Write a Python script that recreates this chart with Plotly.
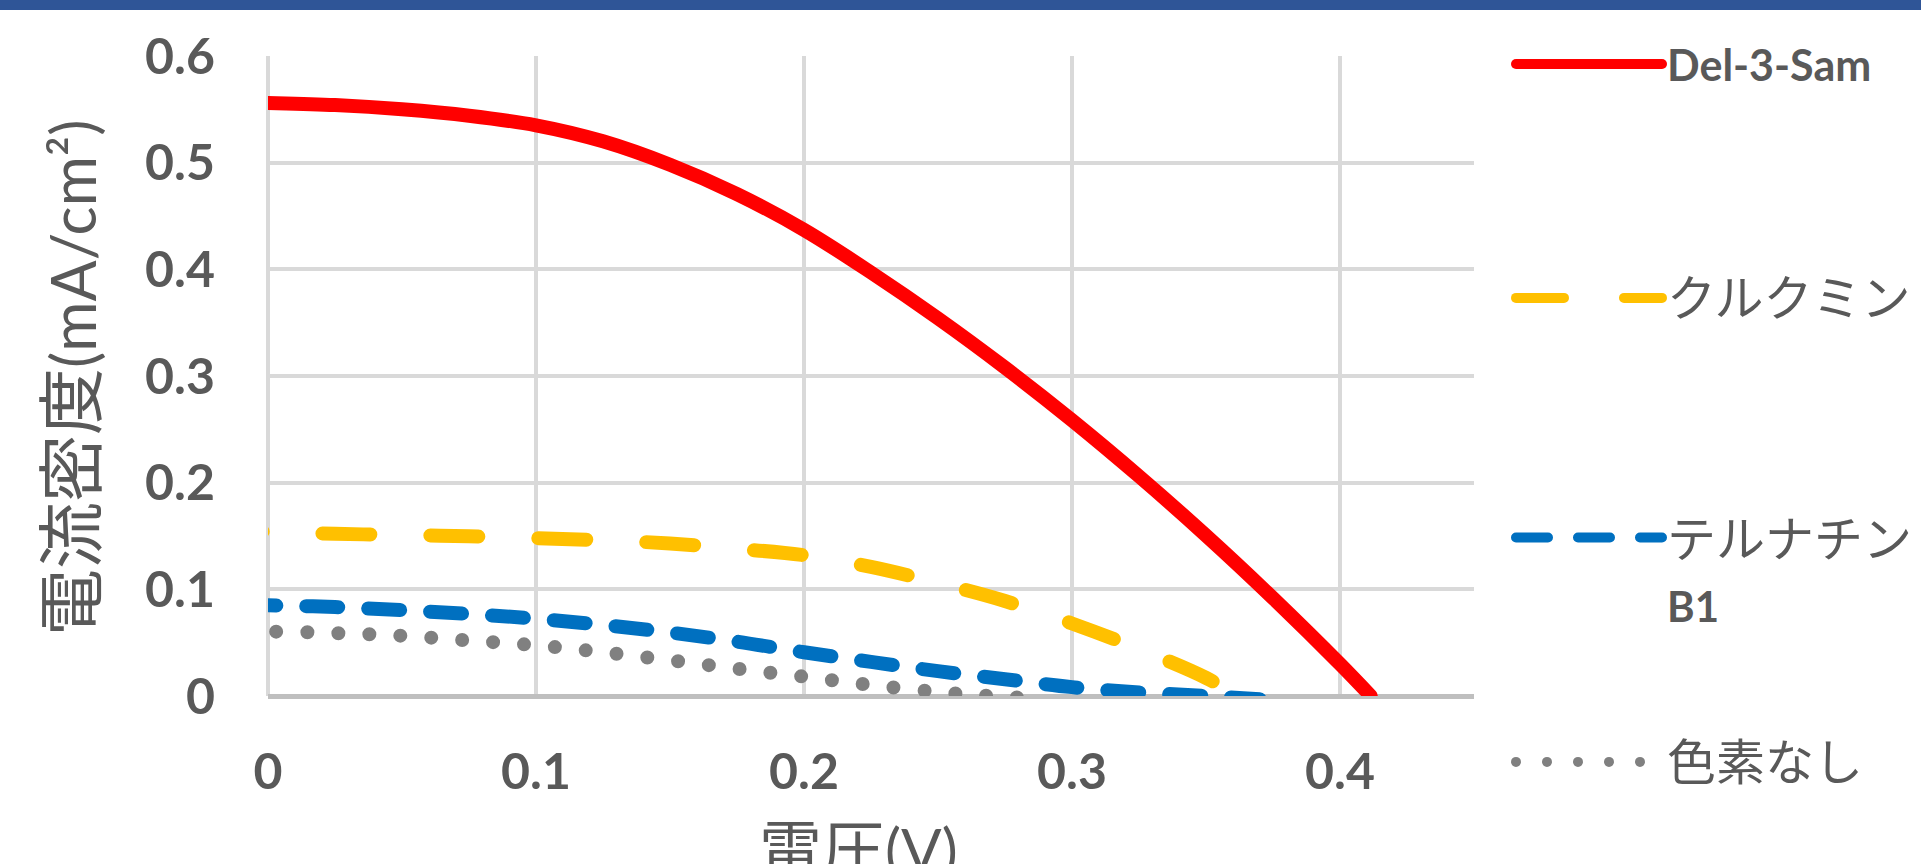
import plotly.graph_objects as go

# J-V curves: current density (mA/cm2) vs voltage (V)
del3sam_v = [-0.02, 0.0, 0.025, 0.05, 0.075, 0.1, 0.125, 0.15, 0.175, 0.2, 0.225,
             0.25, 0.275, 0.3, 0.325, 0.35, 0.375, 0.4, 0.4115]
del3sam_j = [0.557, 0.556, 0.554, 0.550, 0.544, 0.535, 0.520, 0.498, 0.4705, 0.437, 0.397,
             0.354, 0.3078, 0.2585, 0.206, 0.1505, 0.0918, 0.030, 0.0]

curcumin_v = [-0.02, 0.0, 0.025, 0.05, 0.075, 0.1, 0.125, 0.15, 0.175, 0.2, 0.225,
              0.25, 0.275, 0.3, 0.325, 0.35, 0.362]
curcumin_j = [0.155, 0.154, 0.152, 0.151, 0.1497, 0.148, 0.146, 0.143, 0.138, 0.132, 0.121,
              0.106, 0.089, 0.068, 0.044, 0.017, 0.0]

ternatin_v = [-0.032, 0.0, 0.025, 0.05, 0.075, 0.1, 0.125, 0.15, 0.175, 0.2, 0.225,
              0.25, 0.275, 0.3, 0.325, 0.35, 0.37]
ternatin_j = [0.086, 0.085, 0.0834, 0.0805, 0.0769, 0.0725, 0.0666, 0.0595, 0.051, 0.041, 0.032,
              0.0233, 0.0157, 0.0083, 0.0034, 0.0, -0.003]

nodye_v = [-0.02, 0.0, 0.025, 0.05, 0.075, 0.1, 0.125, 0.15, 0.175, 0.2, 0.225,
           0.25, 0.27, 0.29]
nodye_j = [0.0615, 0.0605, 0.059, 0.0565, 0.052, 0.0475, 0.041, 0.0335, 0.0256, 0.0181, 0.0103,
           0.0037, 0.0, -0.003]

KANA = "font-size:49px"
series_names = ["<b>Del-3-Sam</b>",
                f"<span style='{KANA}'>クルクミン</span>",
                f"<span style='{KANA}'>テルナチン</span><br><b style='font-size:42px'>B1</b>",
                f"<span style='{KANA}'>色素なし</span>"]
x_ticks = [0, 0.1, 0.2, 0.3, 0.4]
x_tick_text = ["0", "0.1", "0.2", "0.3", "0.4"]
y_ticks = [0, 0.1, 0.2, 0.3, 0.4, 0.5, 0.6]
y_tick_text = ["0", "0.1", "0.2", "0.3", "0.4", "0.5", "0.6"]

TEXT = "#595959"
FONT = "Lato, 'Noto Sans CJK JP', sans-serif"
CJK_Y = "font-family:Noto Sans CJK JP;font-size:67px"
CJK_X = "font-family:Noto Sans CJK JP;font-size:63px"
LW = 14

fig = go.Figure()
fig.add_trace(go.Scatter(x=del3sam_v, y=del3sam_j, mode="lines", name=series_names[0],
                         line=dict(color="#FF0000", width=LW, shape="spline"),
                         legend="legend"))
fig.add_trace(go.Scatter(x=curcumin_v, y=curcumin_j, mode="lines", name=series_names[1],
                         line=dict(color="#FFC000", width=LW, shape="spline", dash="48px,60px"),
                         legend="legend2"))
fig.add_trace(go.Scatter(x=ternatin_v, y=ternatin_j, mode="lines", name=series_names[2],
                         line=dict(color="#0070C0", width=LW, shape="spline", dash="32px,30px"),
                         legend="legend3"))
fig.add_trace(go.Scatter(x=nodye_v, y=nodye_j, mode="lines", name=series_names[3],
                         line=dict(color="#808080", width=LW, shape="spline", dash="0px,31px"),
                         legend="legend4"))

PLOT_L, PLOT_R, PLOT_T, PLOT_B = 268, 1474, 56, 696
W, H = 1921, 864
pw, ph = PLOT_R - PLOT_L, PLOT_B - PLOT_T


def px(xp):
    return (xp - PLOT_L) / pw


def py(yp):
    return (PLOT_B - yp) / ph


legend_common = dict(bgcolor="rgba(0,0,0,0)", xanchor="left", yanchor="middle",
                     itemwidth=146, font=dict(family=FONT, size=46, color=TEXT),
                     x=px(1511))

fig.update_layout(
    width=W, height=H,
    margin=dict(l=PLOT_L, r=W - PLOT_R, t=PLOT_T, b=H - PLOT_B, autoexpand=False),
    paper_bgcolor="white", plot_bgcolor="white",
    showlegend=True,
    legend=dict(legend_common, y=py(64), font=dict(family=FONT, size=43, color=TEXT)),
    legend2=dict(legend_common, y=py(298)),
    legend3=dict(legend_common, y=py(570), valign="top",
                 font=dict(family=FONT, size=50, color=TEXT)),
    legend4=dict(legend_common, y=py(762)),
    xaxis=dict(range=[0, 0.45], tickvals=x_ticks, ticktext=x_tick_text,
               showgrid=True, gridcolor="#D9D9D9", gridwidth=4,
               zeroline=True, zerolinecolor="#D9D9D9", zerolinewidth=4,
               showline=False, ticks="", ticklabelstandoff=42,
               tickfont=dict(family=FONT, size=50, color=TEXT, weight="bold")),
    yaxis=dict(range=[0, 0.6], tickvals=y_ticks, ticktext=y_tick_text,
               showgrid=True, gridcolor="#D9D9D9", gridwidth=4,
               zeroline=True, zerolinecolor="#BFBFBF", zerolinewidth=5,
               showline=False, ticks="", ticklabelstandoff=52,
               tickfont=dict(family=FONT, size=50, color=TEXT, weight="bold")),
    annotations=[
        dict(text=f"<span style='{CJK_Y}'>電流密度</span>(mA/cm²)",
             xref="paper", yref="paper", x=px(66), y=py(378),
             xanchor="center", yanchor="middle", textangle=-90, showarrow=False,
             font=dict(family=FONT, size=61, color=TEXT)),
        dict(text=f"<span style='{CJK_X}'>電圧</span>(V)",
             xref="paper", yref="paper", x=px(858), y=py(797),
             xanchor="center", yanchor="top", showarrow=False,
             font=dict(family=FONT, size=60, color=TEXT)),
    ],
    shapes=[
        dict(type="rect", xref="paper", yref="paper", ysizemode="pixel", yanchor=1,
             x0=-0.5, x1=1.6, y0=PLOT_T - 10, y1=PLOT_T + 20,
             fillcolor="#2F5597", line=dict(width=0), layer="above"),
    ],
)

round_caps = """
var s = document.createElement('style');
s.textContent = 'body{margin:0;} .js-line{stroke-linecap:round;}';
document.head.appendChild(s);
"""

fig.write_html("out.html", post_script=round_caps)
